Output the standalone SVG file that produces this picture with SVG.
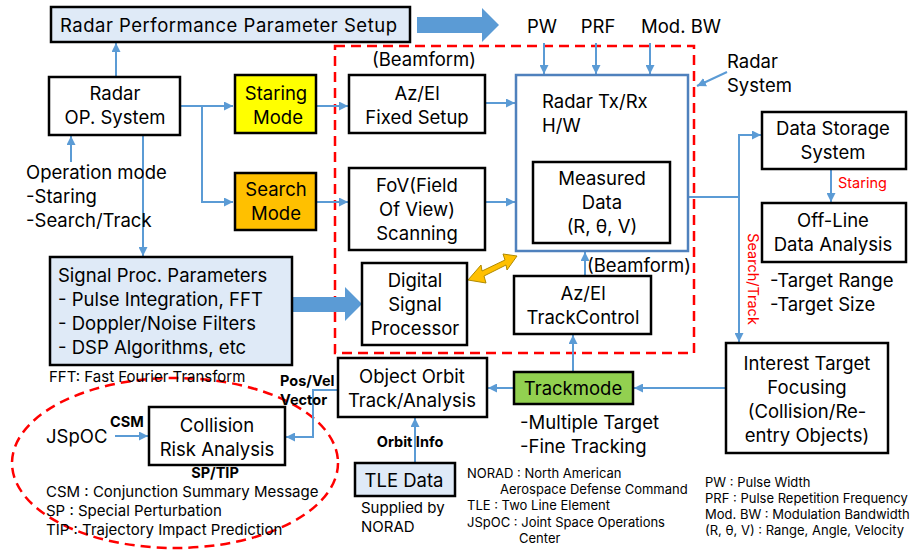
<svg xmlns="http://www.w3.org/2000/svg" width="918" height="555" viewBox="0 0 918 555">
<defs>
<style>
text{font-family:Inter,"Noto Sans","Liberation Sans",sans-serif;fill:#000}
.t{font-size:18.5px}
.c{text-anchor:middle}
.s{font-size:13px}
.m{font-size:15px}
.b{font-weight:bold;font-size:14.5px}
.r{fill:#ff0000;font-size:14.5px}
.box{fill:#fff;stroke:#000;stroke-width:2.5}
.lb{fill:#dfeaf7;stroke:#000;stroke-width:2.5}
.ln{fill:none;stroke:#5b9bd5;stroke-width:2}
.big{fill:#5b9bd5;stroke:none}
.dash{fill:none;stroke:#ff0000;stroke-width:2.5;stroke-dasharray:10,6}
</style>
<marker id="ah" viewBox="0 0 10 10" refX="10" refY="5" markerWidth="9" markerHeight="9" markerUnits="userSpaceOnUse" orient="auto">
<path d="M0,0 L10,5 L0,10 z" fill="#5b9bd5"/>
</marker>
</defs>
<rect width="918" height="555" fill="#fff"/>

<!-- dashed regions -->
<rect x="335" y="46" width="359" height="307" class="dash"/>
<ellipse cx="175" cy="463" rx="163" ry="85" class="dash"/>

<!-- connectors -->
<g id="connectors">
<line x1="116" y1="77" x2="116" y2="43" class="ln" marker-end="url(#ah)"/>
<polyline points="180,106 233,106" class="ln" marker-end="url(#ah)"/>
<polyline points="202,106 202,202 233,202" class="ln" marker-end="url(#ah)"/>
<line x1="71" y1="162" x2="71" y2="136" class="ln" marker-end="url(#ah)"/>
<line x1="143" y1="135" x2="143" y2="256" class="ln" marker-end="url(#ah)"/>
<line x1="316" y1="106" x2="348" y2="106" class="ln" marker-end="url(#ah)"/>
<line x1="316" y1="202" x2="348" y2="202" class="ln" marker-end="url(#ah)"/>
<line x1="485" y1="103" x2="515" y2="103" class="ln" marker-end="url(#ah)"/>
<line x1="485" y1="202" x2="515" y2="202" class="ln" marker-end="url(#ah)"/>
<line x1="544" y1="43" x2="544" y2="74" class="ln" marker-end="url(#ah)"/>
<line x1="596" y1="43" x2="596" y2="74" class="ln" marker-end="url(#ah)"/>
<line x1="650" y1="43" x2="650" y2="74" class="ln" marker-end="url(#ah)"/>
<line x1="727" y1="72" x2="697" y2="86" class="ln" stroke-width="1.5" marker-end="url(#ah)"/>
<polyline points="670,197 739,197" class="ln"/>
<polyline points="739,342 739,135 761,135" class="ln" marker-end="url(#ah)"/>
<line x1="739" y1="300" x2="739" y2="342" class="ln" marker-end="url(#ah)"/>
<line x1="831" y1="169" x2="831" y2="202" class="ln" marker-end="url(#ah)"/>
<line x1="585" y1="276" x2="585" y2="252" class="ln" marker-end="url(#ah)"/>
<line x1="573" y1="372" x2="573" y2="335" class="ln" marker-end="url(#ah)"/>
<line x1="726" y1="388" x2="634" y2="388" class="ln" marker-end="url(#ah)"/>
<line x1="514" y1="388" x2="488" y2="388" class="ln" marker-end="url(#ah)"/>
<line x1="415" y1="463" x2="415" y2="418" class="ln" marker-end="url(#ah)"/>
<polyline points="338,390 313,390 313,437 286,437" class="ln" marker-end="url(#ah)"/>
<line x1="115" y1="436" x2="148" y2="436" class="ln" marker-end="url(#ah)"/>
<!-- big arrows -->
<path d="M417,17 L482,17 L482,8 L499,25 L482,42 L482,33 L417,33 z" class="big"/>
<path d="M292,297 L345,297 L345,287 L362,304 L345,321 L345,312 L292,312 z" class="big"/>
<!-- yellow double arrow -->
<path d="M468,280 L481,265 L482,271 L505,260 L503,254 L517,256 L507,270 L506,265 L484,276 L486,283 z" fill="#ffc000" stroke="#b08a00" stroke-width="1"/>
</g>

<!-- nodes -->
<g id="perf">
<rect x="51" y="7" width="359" height="35" class="lb"/>
<text x="60" y="32" class="t" textLength="337" lengthAdjust="spacing">Radar Performance Parameter Setup</text>
</g>
<g id="params">
<text x="542" y="33" class="t c">PW</text>
<text x="598" y="33" class="t c">PRF</text>
<text x="681" y="33" class="t c">Mod. BW</text>
</g>
<g id="radarsys">
<text x="727" y="68" class="t">Radar</text>
<text x="727" y="92" class="t">System</text>
</g>
<g id="opsys">
<rect x="49" y="77" width="131" height="58" class="box"/>
<text x="115" y="100" class="t c">Radar</text>
<text x="115" y="124" class="t c">OP. System</text>
</g>
<g id="opmode">
<text x="26" y="179" class="t">Operation mode</text>
<text x="26" y="203" class="t">-Staring</text>
<text x="26" y="227" class="t">-Search/Track</text>
</g>
<g id="staring">
<rect x="235" y="75" width="81" height="58" fill="#ffff00" stroke="#000" stroke-width="2.5"/>
<text x="276" y="100" class="t c">Staring</text>
<text x="278" y="124" class="t c">Mode</text>
</g>
<g id="search">
<rect x="235" y="173" width="81" height="57" fill="#ffc000" stroke="#000" stroke-width="2.5"/>
<text x="276" y="196" class="t c">Search</text>
<text x="276" y="220" class="t c">Mode</text>
</g>
<text x="372" y="66" class="t">(Beamform)</text>
<g id="azfixed">
<rect x="349" y="75" width="136" height="58" class="box"/>
<text x="417" y="100" class="t c">Az/El</text>
<text x="417" y="124" class="t c">Fixed Setup</text>
</g>
<g id="fov">
<rect x="349" y="168" width="136" height="82" class="box"/>
<text x="417" y="192" class="t c">FoV(Field</text>
<text x="417" y="216" class="t c">Of View)</text>
<text x="417" y="240" class="t c">Scanning</text>
</g>
<g id="txrx">
<rect x="516" y="75" width="172" height="176" fill="#fff" stroke="#4f81bd" stroke-width="2.5"/>
<text x="542" y="108" class="t">Radar Tx/Rx</text>
<text x="542" y="132" class="t">H/W</text>
</g>
<g id="measured">
<rect x="533" y="162" width="137" height="81" class="box"/>
<text x="602" y="185" class="t c">Measured</text>
<text x="602" y="209" class="t c">Data</text>
<text x="602" y="233" class="t c">(R, θ, V)</text>
</g>
<g id="dsp">
<rect x="362" y="263" width="105" height="82" class="box"/>
<text x="415" y="287" class="t c">Digital</text>
<text x="415" y="311" class="t c">Signal</text>
<text x="415" y="335" class="t c">Processor</text>
</g>
<text x="587" y="272" class="t">(Beamform)</text>
<g id="trackctl">
<rect x="514" y="276" width="137" height="58" class="box"/>
<text x="583" y="300" class="t c">Az/El</text>
<text x="583" y="324" class="t c">TrackControl</text>
</g>
<g id="sigproc">
<rect x="50" y="257" width="242" height="108" class="lb"/>
<text x="58" y="282" class="t">Signal Proc. Parameters</text>
<text x="58" y="306" class="t">- Pulse Integration, FFT</text>
<text x="58" y="330" class="t">- Doppler/Noise Filters</text>
<text x="58" y="354" class="t">- DSP Algorithms, etc</text>
</g>
<text x="49" y="382" class="m">FFT: Fast Fourier Transform</text>
<g id="storage">
<rect x="762" y="112" width="144" height="57" class="box"/>
<text x="833" y="135" class="t c">Data Storage</text>
<text x="833" y="159" class="t c">System</text>
</g>
<text x="838" y="188" class="r">Staring</text>
<text x="0" y="0" class="r" transform="translate(748,279) rotate(90)" text-anchor="middle">Search/Track</text>
<g id="offline">
<rect x="762" y="203" width="144" height="59" class="box"/>
<text x="833" y="227" class="t c">Off-Line</text>
<text x="833" y="251" class="t c">Data Analysis</text>
</g>
<text x="770" y="287" class="t">-Target Range</text>
<text x="770" y="311" class="t">-Target Size</text>
<g id="interest">
<rect x="726" y="343" width="162" height="110" class="box"/>
<text x="807" y="370" class="t c">Interest Target</text>
<text x="807" y="394" class="t c">Focusing</text>
<text x="807" y="418" class="t c">(Collision/Re-</text>
<text x="807" y="442" class="t c">entry Objects)</text>
</g>
<g id="trackmode">
<rect x="514" y="372" width="119" height="32" fill="#92d050" stroke="#000" stroke-width="2.5"/>
<text x="573" y="395" class="t c">Trackmode</text>
</g>
<text x="520" y="429" class="t">-Multiple Target</text>
<text x="520" y="453" class="t">-Fine Tracking</text>
<g id="orbit">
<rect x="338" y="358" width="149" height="59" class="box"/>
<text x="412" y="383" class="t c">Object Orbit</text>
<text x="412" y="407" class="t c">Track/Analysis</text>
</g>
<text x="280" y="386" class="b">Pos/Vel</text>
<text x="280" y="405" class="b">Vector</text>
<text x="410" y="447" class="b c">Orbit Info</text>
<g id="tle">
<rect x="355" y="463" width="100" height="33" class="lb"/>
<text x="404" y="487" class="t c">TLE Data</text>
</g>
<text x="361" y="513" class="m">Supplied by</text>
<text x="361" y="532" class="m">NORAD</text>
<g id="collision">
<rect x="149" y="407" width="136" height="58" class="box"/>
<text x="217" y="432" class="t c">Collision</text>
<text x="217" y="456" class="t c">Risk Analysis</text>
</g>
<text x="46" y="443" class="t">JSpOC</text>
<text x="110" y="427" class="b">CSM</text>
<text x="215" y="478" class="b c">SP/TIP</text>
<text x="46" y="497" class="m">CSM : Conjunction Summary Message</text>
<text x="46" y="516" class="m">SP : Special Perturbation</text>
<text x="46" y="535" class="m">TIP : Trajectory Impact Prediction</text>
<g id="legend1">
<text x="467" y="478" class="s">NORAD : North American</text>
<text x="500" y="494" class="s">Aerospace Defense Command</text>
<text x="467" y="510" class="s">TLE : Two Line Element</text>
<text x="467" y="527" class="s">JSpOC : Joint Space Operations</text>
<text x="519" y="543" class="s">Center</text>
</g>
<g id="legend2">
<text x="705" y="487" class="s">PW : Pulse Width</text>
<text x="705" y="503" class="s">PRF : Pulse Repetition Frequency</text>
<text x="705" y="519" class="s">Mod. BW : Modulation Bandwidth</text>
<text x="705" y="535" class="s">(R, θ, V) : Range, Angle, Velocity</text>
</g>
</svg>
